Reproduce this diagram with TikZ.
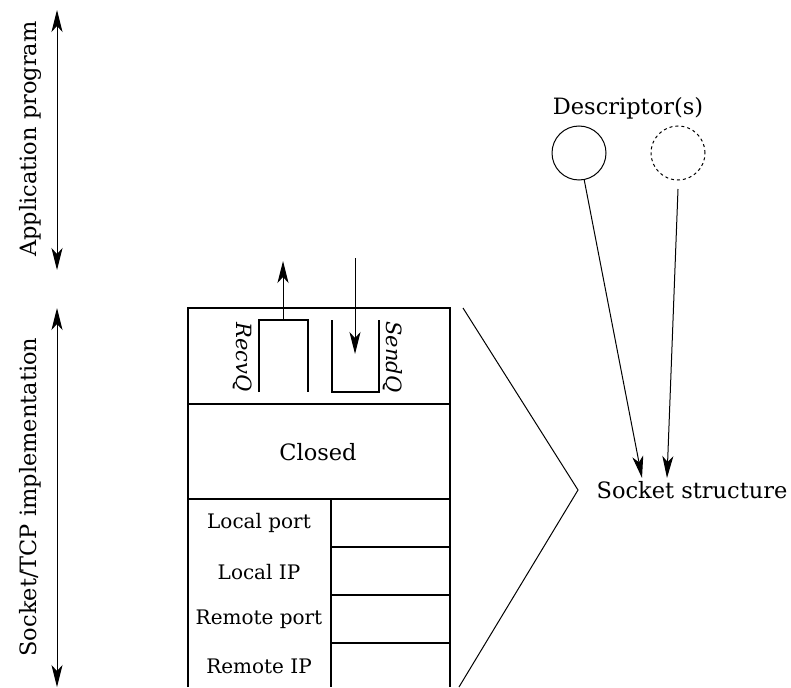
\documentclass[tikz,border=0pt]{standalone}
\usepackage{fontspec}
\setmainfont{DejaVu Serif}
\usetikzlibrary{arrows.meta}
\begin{document}
\begin{tikzpicture}[x=1pt,y=-1pt,line width=1.3pt,
  >={Stealth[length=22pt,width=11pt,inset=6pt]},
  lbl/.style={inner sep=0pt,font=\fontsize{22.5}{27}\selectfont},
  thinl/.style={line width=1pt},
  desc/.style={circle,draw,line width=1pt,minimum size=54pt,inner sep=0pt}]
\useasboundingbox (0,0) rectangle (791,687);
% layer arrows
\coordinate (a1) at (57,10); \coordinate (a2) at (57,270);
\coordinate (b1) at (57,308); \coordinate (b2) at (57,687);
\draw[thinl,<->] (a1) -- (a2);
\draw[thinl,<->] (b1) -- (b2);
\node[lbl,rotate=90] (app) at (30,139) {Application program};
\node[lbl,rotate=90] (impl) at (30,497) {Socket/TCP implementation};
% socket box
\draw (188,687) -- (188,308) -- (450,308) -- (450,687);
\draw (188,404) -- (450,404);
\draw (188,499) -- (450,499);
\draw (331,499) -- (331,687);
\draw (331,547) -- (450,547);
\draw (331,595) -- (450,595);
\draw (331,643) -- (450,643);
% queues
\draw (259,392) |- (308,320) -- (308,392);
\draw (332,320) |- (379,392) -- (379,320);
\coordinate (rq) at (283,320); \coordinate (rqt) at (283,261);
\coordinate (sqs) at (355,258); \coordinate (sqt) at (355,354);
\draw[thinl,->] (rq) -- (rqt);
\draw[thinl,->] (sqs) -- (sqt);
\node[lbl,rotate=-90,font=\fontsize{21}{25}\selectfont\itshape] (recv) at (243,357) {RecvQ};
\node[lbl,rotate=-90,font=\fontsize{21}{25}\selectfont\itshape] (send) at (393,357) {SendQ};
\node[lbl] (closed) at (318,452) {Closed};
\node[lbl,font=\fontsize{20}{24}\selectfont] (lp) at (259,523) {Local port};
\node[lbl,font=\fontsize{20}{24}\selectfont] (lip) at (259,572) {Local IP};
\node[lbl,font=\fontsize{20}{24}\selectfont] (rp) at (259,619) {Remote port};
\node[lbl,font=\fontsize{20}{24}\selectfont] (rip) at (259,666) {Remote IP};
% fan
\coordinate (f1) at (463,308); \coordinate (f2) at (578,490); \coordinate (f3) at (459,687);
\draw[thinl] (f1) -- (f2) -- (f3);
\node[lbl] (ss) at (692,490) {Socket structure};
% descriptors
\node[lbl] (dl) at (628,108) {Descriptor(s)};
\node[desc] (d1) at (579,153) {};
\node[desc,dashed] (d2) at (678,153) {};
\coordinate (t1) at (642,478); \coordinate (t2) at (667,478);
\coordinate (d2s) at (678,189);
\draw[thinl,->] (d1) -- (t1);
\draw[thinl,->] (d2s) -- (t2);
\end{tikzpicture}
\end{document}
